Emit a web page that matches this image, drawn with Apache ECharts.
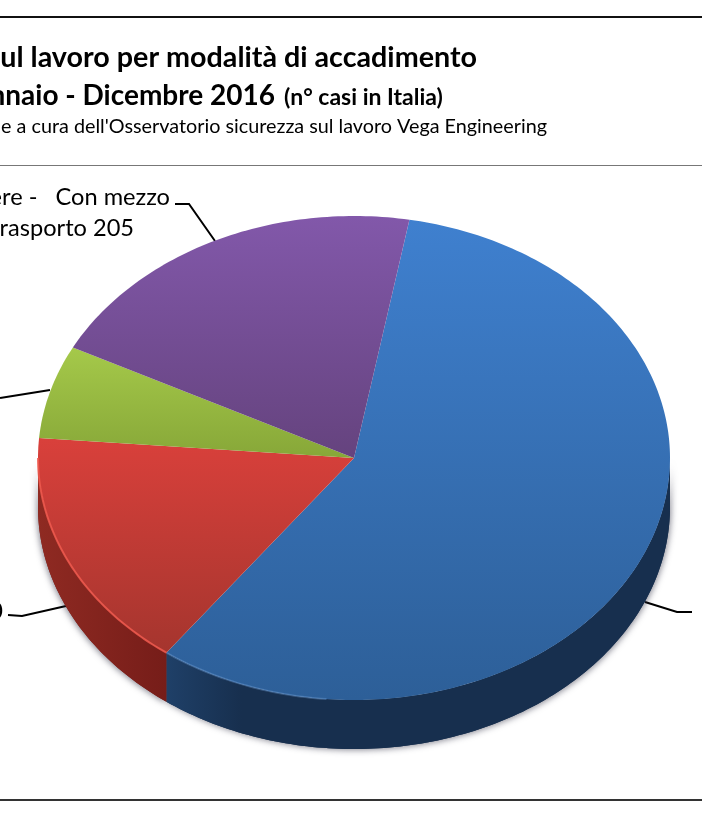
<!DOCTYPE html>
<html><head><meta charset="utf-8">
<style>html,body{margin:0;padding:0;background:#fff;overflow:hidden}#c{width:702px;height:814px}</style>
<script src="https://cdn.jsdelivr.net/npm/echarts@6/dist/echarts.min.js"></script>
</head><body><div id="c"></div>
<script>
// Slices clockwise, starting at the blue/purple boundary
const categories = ['Blu', 'Rosso', 'Verde', 'Con mezzo di trasporto'];
const values = [580, 164, 63, 205];
const topColors = ['#3f80cf', '#d9403b', '#a5c94a', '#8258aa'];
const bottomColors = ['#2d5f98', '#a5352e', '#87a738', '#65437e'];
const wallLeft = ['#1f4068', '#8f2a22'];
const wallRight = ['#172f4e', '#761d19'];
const rimColors = ['rgba(120,170,230,0.4)', '#f0594e', null, null];
const titleLine1 = 'ul lavoro per modalità di accadimento';
const titleLine2 = 'nnaio - Dicembre 2016';
const titleLine2b = '(n° casi in Italia)';
const subtitle = "e a cura dell'Osservatorio sicurezza sul lavoro Vega Engineering";
const labelLine1 = 'ere -   Con mezzo';
const labelLine2 = 'rasporto 205';

const cx = 354, cy = 458, rx = 316, ry = 242, depth = 49, startDeg = 10.1;
const total = values.reduce((a, b) => a + b, 0);
const rad = d => d * Math.PI / 180;
const pt = (deg, dy) => [cx + rx * Math.sin(rad(deg)), cy - ry * Math.cos(rad(deg)) + (dy || 0)];
const arc = (a, b, dy) => { const p = [], n = Math.max(2, Math.ceil(Math.abs(b - a))); for (let i = 0; i <= n; i++) p.push(pt(a + (b - a) * i / n, dy)); return p; };
const grad = (a, b) => ({ type: 'linear', x: 0, y: 0, x2: 0, y2: 1, colorStops: [{ offset: 0, color: a }, { offset: 1, color: b }] });
const gradH = (a, b, mid) => ({ type: 'linear', x: 0, y: 0, x2: 1, y2: 0, colorStops: [{ offset: 0, color: a }, { offset: mid, color: b }, { offset: 1, color: b }] });

function renderItem(params, api) {
  const i = params.dataIndex;
  let before = 0;
  for (let k = 0; k < i; k++) before += values[k];
  const a0 = startDeg + before / total * 360;
  const a1 = a0 + api.value(0) / total * 360;
  const children = [];
  const f0 = Math.max(a0, 90), f1 = Math.min(a1, 270);
  if (f1 > f0) {
    const outline = arc(f0, f1, 0).concat(arc(f0, f1, depth).reverse());
    children.push({ type: 'polygon', z2: 0, shape: { points: outline },
      style: { fill: wallRight[i], shadowBlur: 6, shadowColor: 'rgba(40,40,60,0.55)', shadowOffsetX: i === 0 ? 1 : -1, shadowOffsetY: 1 } });
    children.push({ type: 'polygon', z2: 1, shape: { points: outline },
      style: { fill: gradH(wallLeft[i], wallRight[i], i === 0 ? 0.15 : 1) } });
  }
  children.push({ type: 'polygon', z2: 5, shape: { points: [[cx, cy]].concat(arc(a0, a1, 0)) },
    style: { fill: grad(topColors[i], bottomColors[i]) } });
  if (rimColors[i] && f1 > f0) {
    const rf0 = i === 0 ? Math.max(f0, 185) : f0;
    children.push({ type: 'polyline', z2: 6, shape: { points: arc(rf0, f1, 0) },
      style: { stroke: rimColors[i], lineWidth: 2, fill: 'none', opacity: 0.85 } });
  }
  return { type: 'group', children };
}

const text = (x, y, t, size, weight, align, color) => ({ type: 'text', x, y, silent: true,
  style: { text: t, font: (weight || 'normal') + ' ' + size + 'px Lato, sans-serif', fill: color || '#000', align: align || 'right', verticalAlign: 'middle' } });
const line = (pts, w, c) => ({ type: 'polyline', silent: true, shape: { points: pts }, style: { stroke: c || '#000', lineWidth: w || 2, fill: 'none' } });

const chart = echarts.init(document.getElementById('c'), null, { renderer: 'canvas' });
chart.setOption({
  animation: false,
  backgroundColor: '#fff',
  series: [{ type: 'custom', coordinateSystem: 'none', renderItem, silent: true,
    data: values.map((v, i) => ({ name: categories[i], value: [v] })) }],
  graphic: { elements: [
    line([[0, 17], [702, 17]], 2, '#111'),
    line([[0, 165.5], [702, 165.5]], 1, '#777'),
    line([[0, 800], [702, 800]], 2, '#333'),
    text(477, 58, titleLine1, 28.7, 'bold'),
    text(275, 96, titleLine2, 28, 'bold'),
    text(284, 98, titleLine2b, 23, 'bold', 'left'),
    text(547, 127, subtitle, 19.8, 'normal'),
    text(170, 197, labelLine1, 23.6),
    text(134, 228, labelLine2, 23.6),
    text(3, 611, '0', 23.6),
    line([[175, 204], [189, 204], [215, 241]], 2),
    line([[0, 398], [50, 390]], 2),
    line([[8, 615], [22, 616], [66, 606]], 2),
    line([[645, 602], [677, 612], [692, 612]], 2)
  ] }
});
</script></body></html>
